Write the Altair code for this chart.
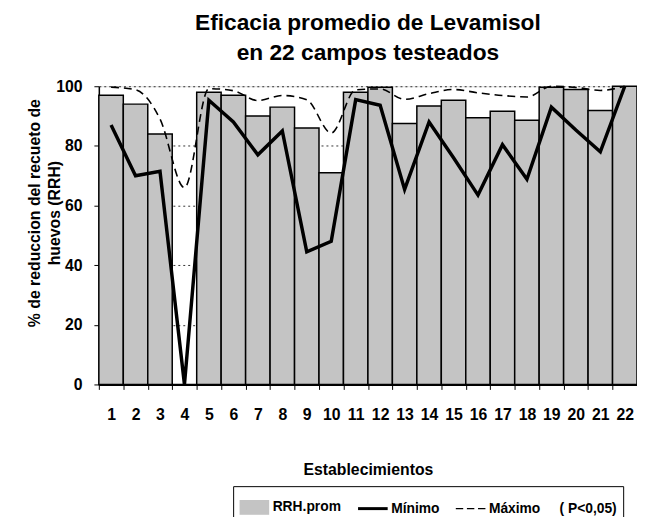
import altair as alt
import pandas as pd

# ---- data ----
establecimientos = list(range(1, 23))
rrh_prom = [97, 94, 84, 0, 98, 97, 90, 93, 86, 71, 98, 99.7, 87.5, 93.4, 95.3,
            89.4, 91.6, 88.6, 99.7, 98.9, 91.9, 100]
minimo = [87, 70, 71.5, 0, 95.3, 88, 77, 85, 44.5, 48, 95.5, 93.6, 65.4, 88, 76,
          63.5, 80.4, 68.8, 93, 85.3, 78, 100]
maximo = [99.7, 98.8, 89, 66, 99.2, 98.5, 95.2, 96.9, 95.5, 84.3, 98.8, 99.1, 95.6,
          97.5, 98.9, 97.8, 96.9, 96.4, 100, 99.6, 98.6, 100]
series = ["RRH.prom", "Mínimo", "Máximo"]
y_ticks = [0, 20, 40, 60, 80, 100]

rows = []
for name, vals in zip(series, [rrh_prom, minimo, maximo]):
    for e, v in zip(establecimientos, vals):
        rows.append({"Establecimiento": e, "serie": name, "valor": v})
df = pd.DataFrame(rows)

FONT = "Liberation Sans"
GRAY = "#c4c4c4"

x = alt.X(
    "Establecimiento:O",
    title="Establecimientos",
    scale=alt.Scale(paddingInner=0, paddingOuter=0),
    axis=alt.Axis(
        labelAngle=0, tickBand="extent", labelFont=FONT, labelFontSize=16,
        labelFontWeight="bold", labelColor="black", labelPadding=17,
        tickSize=5, tickColor="black", domainColor="black", domainWidth=2,
        titleFont=FONT, titleFontSize=16, titleFontWeight="bold",
        titleColor="black", titlePadding=40, grid=False,
    ),
)
y = alt.Y(
    "valor:Q",
    scale=alt.Scale(domain=[0, 100], nice=False),
    axis=alt.Axis(
        values=y_ticks, title=["% de reduccion del recueto de", "huevos (RRH)"],
        labelFont=FONT, labelFontSize=16, labelFontWeight="bold",
        labelColor="black", labelPadding=12, tickSize=5, tickColor="black",
        domainColor="black", domainWidth=1.5, grid=True, gridColor="black",
        gridDash=[2, 3], gridWidth=0.8, titleFont=FONT, titleFontSize=16,
        titleFontWeight="bold", titleColor="black",
        titleLineHeight=20, titleX=-57, titleY=128, titleAngle=270,
        titleBaseline="bottom", titleAlign="center",
    ),
)

base = alt.Chart(df)

bars = base.transform_filter(alt.datum.serie == "RRH.prom").mark_bar(
    fill=GRAY, stroke="black", strokeWidth=1.5
).encode(x=x, y=y)

max_line = base.transform_filter(alt.datum.serie == "Máximo").mark_line(
    color="black", strokeWidth=1.6, strokeDash=[8, 5], interpolate="monotone"
).encode(x=x, y=y)

min_line = base.transform_filter(alt.datum.serie == "Mínimo").mark_line(
    color="black", strokeWidth=3.5
).encode(x=x, y=y)

shapes = [
    "M-1,-0.5H1V0.5H-1Z",
    "M-1,-0.1H1V0.1H-1Z",
    "M-1,-0.04H-0.5V0.04H-1Z M-0.25,-0.04H0.25V0.04H-0.25Z M0.5,-0.04H1V0.04H0.5Z",
]
fills = [GRAY, "black", "black"]
NB = "\u00a0"
legend = alt.Legend(
    orient="none", legendX=136, legendY=405, direction="horizontal", title=None,
    labelFont=FONT, labelFontSize=14, labelFontWeight="bold", labelColor="black",
    symbolSize=900, symbolStrokeColor="black", symbolStrokeWidth=1,
    symbolOpacity=1, strokeColor="black", fillColor="white", padding=6,
    columnPadding=14, labelOffset=3,
    labelExpr="datum.label == 'Máximo' ? 'Máximo" + NB * 5 + "( P<0,05)' : datum.label",
)
points = base.mark_point(filled=True, opacity=0).encode(
    x=x, y=y,
    shape=alt.Shape("serie:N", scale=alt.Scale(domain=series, range=shapes), legend=legend),
    fill=alt.Fill("serie:N", scale=alt.Scale(domain=series, range=fills), legend=legend),
)

chart = alt.layer(bars, max_line, min_line, points).properties(
    width=545, height=302,
    autosize=alt.AutoSizeParams(type="none"),
    padding={"left": 92, "top": 76, "right": 0, "bottom": 131},
    title=alt.TitleParams(
        ["Eficacia promedio de Levamisol", "en 22 campos testeados"],
        font=FONT, fontSize=23, fontWeight="bold", color="black",
        anchor="middle", offset=14, lineHeight=30,
    ),
).configure_view(stroke="black", strokeWidth=1).configure(background="white")

chart.save("out.html", embed_options={"renderer": "svg", "actions": False})
